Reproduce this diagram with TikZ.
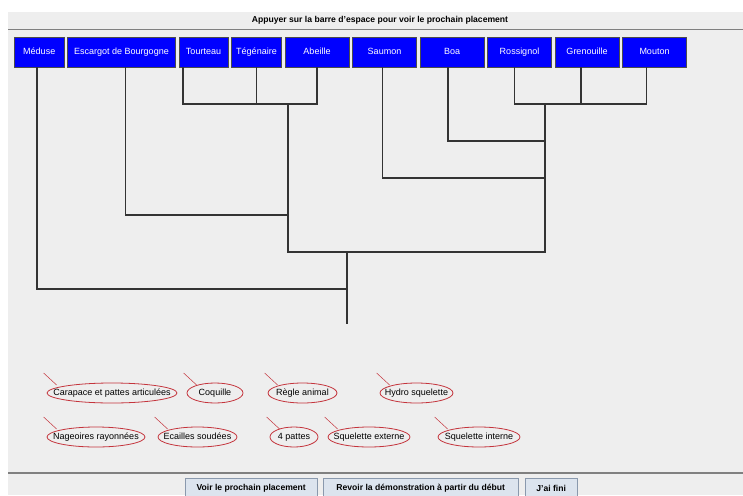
\documentclass[tikz,border=0pt]{standalone}
\usepackage{fontspec}
\setmainfont{Liberation Sans}
\usetikzlibrary{positioning,shapes.geometric}

\definecolor{panelgray}{HTML}{EEEEEE}
\definecolor{taxonblue}{HTML}{0000FF}
\definecolor{branchgray}{HTML}{333333}
\definecolor{traitred}{HTML}{C4343C}
\definecolor{buttonfill}{HTML}{DCE4EE}
\definecolor{buttonline}{HTML}{8A99AD}

\begin{document}
\begin{tikzpicture}[x=1pt,y=-1pt,node distance=3.5pt,
  taxon/.style={draw=black!70,fill=taxonblue,text=white,font=\fontsize{9}{10}\selectfont,
    minimum height=30pt,inner sep=0pt,outer sep=0pt,text height=6.8pt,text depth=2pt,anchor=north west},
  branch/.style={draw=branchgray,line width=1.7pt},
  trait/.style={ellipse,draw=traitred,line width=.8pt,inner sep=0pt,minimum height=20pt,
    text height=6.8pt,text depth=2pt,font=\fontsize{9}{10}\selectfont},
  tail/.style={draw=traitred,line width=.5pt},
  button/.style={draw=buttonline,fill=buttonfill,font=\bfseries\fontsize{8.6}{10}\selectfont,
    minimum height=20pt,inner sep=0pt,anchor=north west}]
\useasboundingbox (0,0) rectangle (743,495);
\fill[panelgray] (8,12) rectangle (743,495);
\draw[gray,line width=1pt] (8,30) -- (743,30);
\draw[gray,line width=1.2pt] (8,473) -- (743,473);
\node[font=\bfseries\fontsize{8.6}{10}\selectfont] (title) at (380,20) {Appuyer sur la barre d'espace pour voir le prochain placement};

% taxons
\node[taxon,minimum width=49.5pt] (meduse) at (14.5,37) {M\'eduse};
\node[taxon,minimum width=108pt,right=of meduse.north east,anchor=north west] (escargot) {Escargot de Bourgogne};
\node[taxon,minimum width=49pt,right=of escargot.north east,anchor=north west] (tourteau) {Tourteau};
\node[taxon,minimum width=50pt,right=of tourteau.north east,anchor=north west] (tegenaire) {T\'eg\'enaire};
\node[taxon,minimum width=64pt,right=of tegenaire.north east,anchor=north west] (abeille) {Abeille};
\node[taxon,minimum width=64pt,right=of abeille.north east,anchor=north west] (saumon) {Saumon};
\node[taxon,minimum width=64pt,right=of saumon.north east,anchor=north west] (boa) {Boa};
\node[taxon,minimum width=64pt,right=of boa.north east,anchor=north west] (rossignol) {Rossignol};
\node[taxon,minimum width=64pt,right=of rossignol.north east,anchor=north west] (grenouille) {Grenouille};
\node[taxon,minimum width=64pt,right=of grenouille.north east,anchor=north west] (mouton) {Mouton};

% stems and junctions
\coordinate (sMeduse) at ([xshift=-2.5pt]meduse.south);
\coordinate (sEscargot) at ([xshift=4pt]escargot.south);
\coordinate (sTourteau) at ([xshift=4pt]tourteau.south west);
\coordinate (sSaumon) at ([xshift=-2pt]saumon.south);
\coordinate (sBoa) at ([xshift=-4pt]boa.south);
\coordinate (sRossignol) at ([xshift=-5pt]rossignol.south);
\coordinate (sGrenouille) at ([xshift=-6pt]grenouille.south);
\coordinate (sMouton) at ([xshift=-8pt]mouton.south);
\coordinate (jInsecte) at (288,104);
\coordinate (jTetrapode) at (545,104);
\coordinate (jBoa) at (545,141);
\coordinate (jSaumon) at (545,178);
\coordinate (jEscargot) at (288,215);
\coordinate (jAnimal) at (347,252);
\coordinate (jMeduse) at (347,289);
\coordinate (racine) at (347,324);

\draw[branch] (sTourteau) |- (jInsecte) -| (abeille.south);
\draw[branch] (tegenaire.south) -- (tegenaire.south |- jInsecte);
\draw[branch] (sRossignol) |- (jTetrapode) -| (sMouton);
\draw[branch] (sGrenouille) -- (sGrenouille |- jTetrapode);
\draw[branch] (sBoa) |- (jBoa);
\draw[branch] (sSaumon) |- (jSaumon);
\draw[branch] (sEscargot) |- (jEscargot);
\draw[branch] (jInsecte) -- (jInsecte |- jAnimal) -- (jTetrapode |- jAnimal) -- (jTetrapode);
\draw[branch] (sMeduse) |- (jMeduse);
\draw[branch] (jAnimal) -- (racine);

% caracteres
\node[trait,minimum width=130pt] (carapace) at (112,393) {\makebox[0pt]{Carapace et pattes articul\'ees}};
\node[trait,minimum width=56pt] (coquille) at (215,393) {\makebox[0pt]{Coquille}};
\node[trait,minimum width=69pt] (regle) at (302.5,393) {\makebox[0pt]{R\`egle animal}};
\node[trait,minimum width=73pt] (hydro) at (416.5,393) {\makebox[0pt]{Hydro squelette}};
\node[trait,minimum width=98pt] (nageoires) at (96,437) {\makebox[0pt]{Nageoires rayonn\'ees}};
\node[trait,minimum width=79pt] (ecailles) at (197.5,437) {\makebox[0pt]{Ecailles soud\'ees}};
\node[trait,minimum width=48pt] (pattes) at (294,437) {\makebox[0pt]{4 pattes}};
\node[trait,minimum width=82pt] (externe) at (369,437) {\makebox[0pt]{Squelette externe}};
\node[trait,minimum width=82pt] (interne) at (479,437) {\makebox[0pt]{Squelette interne}};
\draw[tail] (carapace.west) ++(-3,-20) -- ++(13,12);
\draw[tail] (coquille.west) ++(-3,-20) -- ++(13,12);
\draw[tail] (regle.west) ++(-3,-20) -- ++(13,12);
\draw[tail] (hydro.west) ++(-3,-20) -- ++(13,12);
\draw[tail] (nageoires.west) ++(-3,-20) -- ++(13,12);
\draw[tail] (ecailles.west) ++(-3,-20) -- ++(13,12);
\draw[tail] (pattes.west) ++(-3,-20) -- ++(13,12);
\draw[tail] (externe.west) ++(-3,-20) -- ++(13,12);
\draw[tail] (interne.west) ++(-3,-20) -- ++(13,12);

% boutons
\node[button,minimum width=132pt] (voir) at (185,478) {Voir le prochain placement};
\node[button,minimum width=195pt] (revoir) at (323,478) {Revoir la d\'emonstration \`a partir du d\'ebut};
\node[button,minimum width=52pt] (fini) at (525,478) {J'ai fini};
\end{tikzpicture}
\end{document}
